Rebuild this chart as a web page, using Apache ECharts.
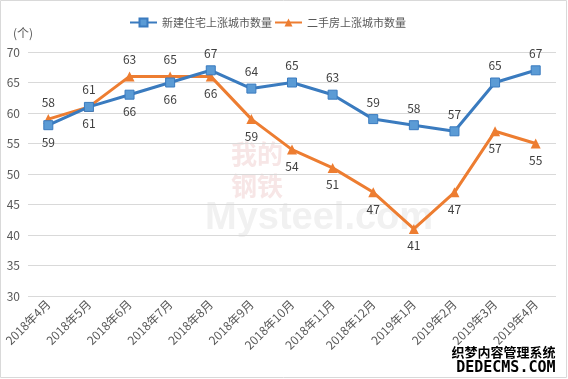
<!DOCTYPE html>
<html><head><meta charset="utf-8">
<script src="https://cdn.jsdelivr.net/npm/echarts@6/dist/echarts.min.js"></script>
<style>html,body{margin:0;padding:0;background:#fff}#c{width:568px;height:379px}</style>
</head><body><div id="c"></div>
<script>
const categories = ['2018年4月','2018年5月','2018年6月','2018年7月','2018年8月','2018年9月','2018年10月','2018年11月','2018年12月','2019年1月','2019年2月','2019年3月','2019年4月'];
const newHomeValues = [58,61,63,65,67,64,65,63,59,58,57,65,67];
const newHomeLabels = [59,61,66,66,67,64,65,63,59,58,57,65,67];
const resaleValues = [59,61,66,66,66,59,54,51,47,41,47,57,55];
const resaleLabels = [58,61,63,65,66,59,54,51,47,41,47,57,55];
const seriesNames = ['新建住宅上涨城市数量','二手房上涨城市数量'];
const yTicks = [30,35,40,45,50,55,60,65,70];

const font = 'Microsoft YaHei, "Noto Sans CJK SC", sans-serif';
const chart = echarts.init(document.getElementById('c'), null, {renderer:'canvas'});
const lblStyle = {show:true, color:'#404040', fontSize:12, fontFamily:font, distance:6};
chart.setOption({
  animation:false,
  grid:{left:28, right:12, top:52, bottom:83},
  legend:{top:12, left:124, itemWidth:27, itemHeight:10, itemGap:2,
    textStyle:{fontSize:11, color:'#595959', fontFamily:font},
    data:seriesNames},
  graphic:[
    {type:'rect', shape:{x:0.5,y:0.5,width:566,height:377}, style:{fill:'none', stroke:'#d9d9d9', lineWidth:1}, silent:true},
    {type:'text', left:13, top:27, style:{text:'(个)', fontSize:12, fill:'#595959', fontFamily:font}},
    {type:'text', left:205, top:200, z:-1, style:{text:'Mysteel.com', fontSize:38, fontWeight:'bold', fill:'#f1f1f1', fontFamily:'Arial, sans-serif'}},
    {type:'text', left:231, top:138, z:-1, style:{text:'我的\n钢铁', fontSize:26, fontWeight:'bold', fill:'#f7e6e6', lineHeight:32, fontFamily:font}},
    {type:'text', right:11, top:344, z:100, style:{text:'织梦内容管理系统', fontSize:13, fontWeight:'bold', fill:'#000', stroke:'#fff', lineWidth:3, fontFamily:font}},
    {type:'text', right:11, top:359, z:100, style:{text:'DEDECMS.COM', fontSize:15, fontWeight:'bold', fill:'#000', stroke:'#fff', lineWidth:3, fontFamily:'"DejaVu Sans Mono", monospace'}}
  ],
  xAxis:{type:'category', data:categories, boundaryGap:true,
    axisLine:{show:false}, axisTick:{show:false},
    axisLabel:{rotate:45, interval:0, fontSize:12, color:'#595959', fontFamily:font, margin:6}},
  yAxis:{type:'value', min:yTicks[0], max:yTicks[yTicks.length-1], interval:5,
    axisLine:{show:false}, axisTick:{show:false},
    axisLabel:{fontSize:12, color:'#595959', fontFamily:font, margin:8},
    splitLine:{lineStyle:{color:'#d9d9d9', width:1}}},
  series:[
    {name:seriesNames[0], type:'line', symbol:'rect', symbolSize:9,
      lineStyle:{color:'#3a7bbf', width:3}, itemStyle:{color:'#5b9bd5', borderColor:'#3a7bbf', borderWidth:1},
      data:newHomeValues.map((v,i)=>({value:v, label:Object.assign({}, lblStyle, {position: i<4?'bottom':'top', formatter:String(newHomeLabels[i])})})),
      z:3},
    {name:seriesNames[1], type:'line', symbol:'triangle', symbolSize:10,
      lineStyle:{color:'#ed7d31', width:3}, itemStyle:{color:'#ed7d31'},
      data:resaleValues.map((v,i)=>({value:v, label:Object.assign({}, lblStyle, {position: i<4?'top':'bottom', formatter:String(resaleLabels[i])})})),
      z:2}
  ]
});
</script></body></html>
